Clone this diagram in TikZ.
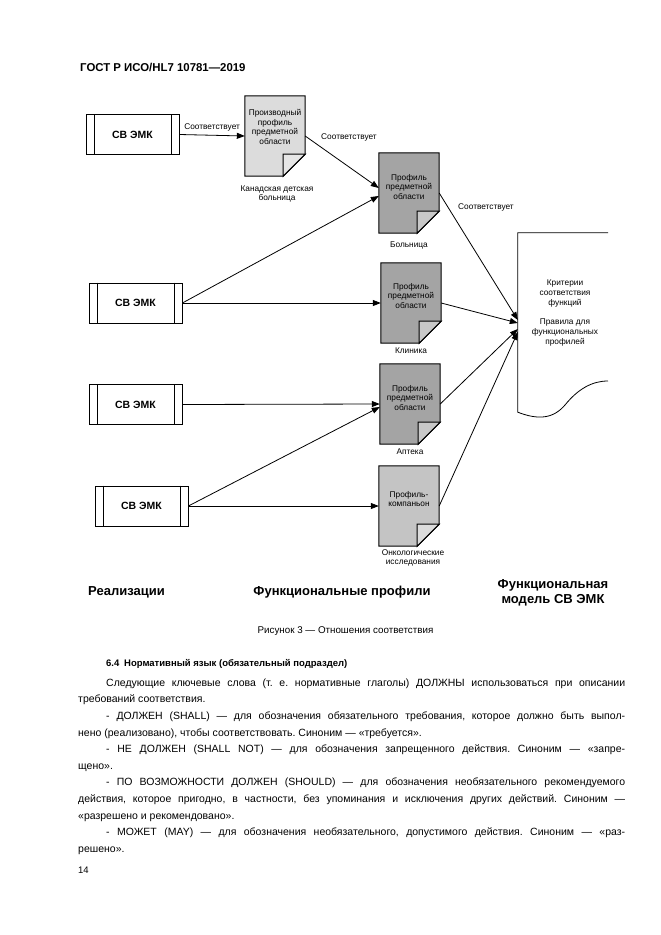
\documentclass[tikz,border=0pt]{standalone}
\usepackage{fontspec}
\setmainfont{Liberation Sans}
\usetikzlibrary{arrows.meta,positioning}

\definecolor{docdark}{HTML}{A4A4A4}
\definecolor{folddark}{HTML}{C8C8C8}
\definecolor{docmid}{HTML}{C4C4C4}
\definecolor{foldmid}{HTML}{DCDCDC}
\definecolor{doclight}{HTML}{DCDCDC}
\definecolor{foldlight}{HTML}{E6E6E6}

\tikzset{
  ehrbox/.style={draw,line width=0.8pt,minimum width=93pt,minimum height=40pt,inner sep=0pt,
    font=\fontsize{10.5}{12}\selectfont\bfseries},
  docpage/.style={minimum width=60pt,minimum height=80pt,inner sep=0pt},
  small/.style={align=center,inner sep=0pt,font=\fontsize{8.3}{9.8}\selectfont},
  conf/.style={line width=0.8pt,-{Triangle[length=8pt,width=6pt]}},
  colname/.style={align=center,inner sep=0pt,font=\fontsize{13}{15.5}\selectfont\bfseries},
}

\begin{document}
\begin{tikzpicture}[x=1pt,y=-1pt]
	\useasboundingbox[fill=white] (0,0) rectangle (661,935);

	\node[anchor=west,inner sep=0pt,font=\fontsize{11.4}{13}\selectfont\bfseries] (hdr) at (80,67) {ГОСТ Р ИСО/HL7 10781—2019};

	% realizations
	\node[ehrbox] (ehr1) at (132.5,134.5) {СВ ЭМК};
	\node[ehrbox] (ehr2) at (135.5,303) {СВ ЭМК};
	\node[ehrbox] (ehr3) at (135.5,404.5) {СВ ЭМК};
	\node[ehrbox] (ehr4) at (141.5,506) {СВ ЭМК};
	\foreach \e in {ehr1,ehr2,ehr3,ehr4}{
		\draw[line width=0.8pt] ([xshift=8.5pt]\e.north west) -- ([xshift=8.5pt]\e.south west);
		\draw[line width=0.8pt] ([xshift=-8.5pt]\e.north east) -- ([xshift=-8.5pt]\e.south east);
	}

	% profiles
	\node[docpage] (dp1) at (275,136) {};
	\node[docpage] (dp2) at (409,193) {};
	\node[docpage] (dp3) at (411,303) {};
	\node[docpage] (dp4) at (410,404) {};
	\node[docpage] (dp5) at (409,506) {};
	\foreach \d/\f/\k in {dp1/doclight/foldlight,dp2/docdark/folddark,dp3/docdark/folddark,dp4/docdark/folddark,dp5/docmid/foldmid}{
		\filldraw[fill=\f,line width=1pt] (\d.north west) -- (\d.north east) -- ([yshift=22pt]\d.south east)
			-- ([xshift=-22pt]\d.south east) -- (\d.south west) -- cycle;
		\filldraw[fill=\k,line width=1pt] ([yshift=22pt]\d.south east) -- ([xshift=-22pt,yshift=22pt]\d.south east)
			-- ([xshift=-22pt]\d.south east) -- cycle;
	}
	\node[small] (dp1t) at (275,127) {Производный\\профиль\\предметной\\области};
	\node[small] (dp2t) at (409,187) {Профиль\\предметной\\области};
	\node[small] (dp3t) at (411,296) {Профиль\\предметной\\области};
	\node[small] (dp4t) at (410,398) {Профиль\\предметной\\области};
	\node[small] (dp5t) at (409,499) {Профиль-\\компаньон};

	\node[small] (dp1l) at (277,194) {Канадская детская\\больница};
	\node[small] (dp2l) at (409,245) {Больница};
	\node[small] (dp3l) at (411,351) {Клиника};
	\node[small] (dp4l) at (410,452) {Аптека};
	\node[small] (dp5l) at (413,558) {Онкологические\\исследования};

	% functional model
	\node[minimum width=90pt,minimum height=179pt,inner sep=0pt] (fm) at (563,322.5) {};
	\draw[line width=0.8pt] (fm.north east) -- (fm.north west) -- (fm.south west)
		.. controls (538,420) and (553,419) .. (565,405) .. controls (578,389) and (592,381) .. (608,381);
	\node[small] (fmt) at (565,313) {Критерии\\соответствия\\функций\\[9.8pt]Правила для\\функциональных\\профилей};

	% conformance
	\draw[conf] (ehr1.east) -- (dp1.west) node[small,midway,above=3.5pt] (c1) {Соответствует};
	\draw[conf] (dp1.east) -- ([yshift=5pt]dp2.west);
	\node[small] (c2) at (349,137) {Соответствует};
	\draw[conf] (ehr2.east) -- ([yshift=-3pt]dp2.west);
	\draw[conf] (ehr2.east) -- (dp3.west);
	\draw[conf] (ehr3.east) -- (dp4.west);
	\draw[conf] (ehr4.east) -- ([yshift=-3pt]dp4.west);
	\draw[conf] (ehr4.east) -- (dp5.west);
	\draw[conf] (dp2.east) -- ([yshift=2.5pt]fm.west);
	\node[small] (c3) at (486,207) {Соответствует};
	\draw[conf] (dp3.east) -- ([yshift=-0.5pt]fm.west);
	\draw[conf] (dp4.east) -- ([yshift=-6.5pt]fm.west);
	\draw[conf] (dp5.east) -- ([yshift=-9.5pt]fm.west);

	% column names
	\node[colname] (real) at (126.5,592) {Реализации};
	\node[colname] (prof) at (342,592) {Функциональные профили};
	\node[colname] (model) at (553,593) {Функциональная\\модель СВ ЭМК};

	\node[inner sep=0pt,font=\fontsize{9.8}{11}\selectfont] (cap) at (345.5,631) {Рисунок 3 — Отношения соответствия};

	% text of the page
	\node[anchor=west,inner sep=0pt,font=\fontsize{9.5}{12}\selectfont\bfseries] (sec) at (106,664) {6.4\enspace Нормативный язык (обязательный подраздел)};
	\node[anchor=north west,inner sep=0pt,text width=547pt,align=justify,font=\fontsize{10.5}{16.6}\selectfont] (body) at (78,678.5) {%
		\hyphenpenalty=10000 \exhyphenpenalty=10000 \parskip=0pt \frenchspacing
		\noindent\hspace*{28pt}Следующие ключевые слова (т.~е. нормативные глаголы) ДОЛЖНЫ использоваться при описании\linebreak
		требований соответствия.\par
		\noindent\hspace*{28pt}- ДОЛЖЕН (SHALL) — для обозначения обязательного требования, которое должно быть выпол-\linebreak
		нено (реализовано), чтобы соответствовать. Синоним — «требуется».\par
		\noindent\hspace*{28pt}- НЕ ДОЛЖЕН (SHALL NOT) — для обозначения запрещенного действия. Синоним — «запре-\linebreak
		щено».\par
		\noindent\hspace*{28pt}- ПО ВОЗМОЖНОСТИ ДОЛЖЕН (SHOULD) — для обозначения необязательного рекомендуемого\linebreak
		действия, которое пригодно, в частности, без упоминания и исключения других действий. Синоним —\linebreak
		«разрешено и рекомендовано».\par
		\noindent\hspace*{28pt}- МОЖЕТ (MAY) — для обозначения необязательного, допустимого действия. Синоним — «раз-\linebreak
		решено».\par};
	\node[anchor=west,inner sep=0pt,font=\fontsize{9.5}{12}\selectfont] (pg) at (78,870) {14};
\end{tikzpicture}
\end{document}
